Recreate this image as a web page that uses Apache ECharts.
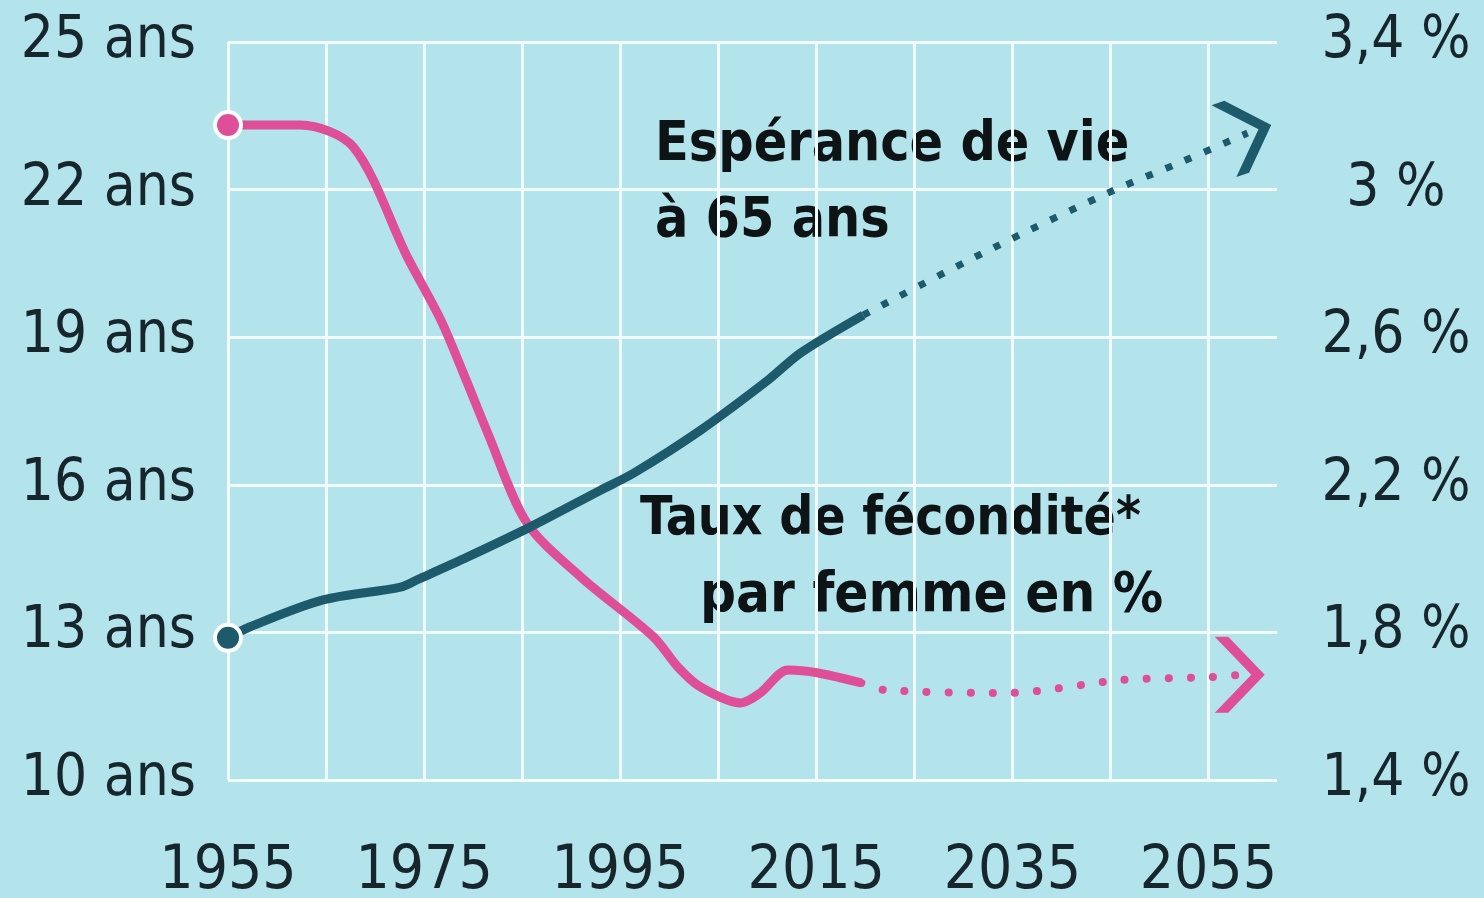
<!DOCTYPE html>
<html>
<head>
<meta charset="utf-8">
<script src="https://cdn.jsdelivr.net/npm/echarts@6/dist/echarts.min.js"></script>
<style>
html, body { margin: 0; padding: 0; background: #b3e3eb; }
#chart { width: 1484px; height: 898px; }
</style>
</head>
<body>
<div id="chart"></div>
<script>
// Taux de fécondité (axe de droite, %)
let fertYears = [1955, 1962.4, 1967.8, 1973.3, 1976.7, 1979, 1981.5, 1985.5, 1991, 1998.4, 2000.9, 2003.2, 2007.3, 2009.3, 2012.1, 2015.2, 2019.6]
let fertValues = [3.175, 3.175, 3.115, 2.817, 2.647, 2.503, 2.34, 2.096, 1.95, 1.788, 1.706, 1.652, 1.609, 1.636, 1.698, 1.69, 1.663]
let fertProjYears = [2019.6, 2022, 2034.5, 2046.2, 2055.2, 2058.2]
let fertProjValues = [1.663, 1.644, 1.636, 1.671, 1.679, 1.685]

// Espérance de vie à 65 ans (axe de gauche, ans)
let lifeYears = [1955, 1957.2, 1964.7, 1972.6, 1974.3, 1979.4, 1985.8, 1993, 1996.4, 2003.2, 2010.1, 2013.4, 2019.8]
let lifeValues = [12.89, 13.11, 13.66, 13.92, 14.07, 14.53, 15.14, 15.89, 16.24, 17.11, 18.13, 18.68, 19.45]
let lifeProjYears = [2019.8, 2033, 2045.4, 2052, 2059]
let lifeProjValues = [19.45, 20.81, 21.99, 22.54, 23.15]

let xTickLabels = ['1955', '1975', '1995', '2015', '2035', '2055']
let leftTickLabels = ['10 ans', '13 ans', '16 ans', '19 ans', '22 ans', '25 ans']
let rightTickLabels = ['1,4 %', '1,8 %', '2,2 %', '2,6 %', '3 %', '3,4 %']

const PINK = '#de4f98'
const BLUE = '#1d5a6c'
const GRIDC = '#f2fcfe'
const chevron = 'path://M0,0 L14,0 L52,38 L14,76 L0,76 L38,38 Z'
const labelFont = '"DejaVu Sans Condensed", "Roboto", sans-serif'

let zip = (xs, ys) => xs.map((x, i) => [x, ys[i]])

let fertData = zip(fertYears, fertValues)
fertData[0] = {
    value: fertData[0], symbol: 'circle', symbolSize: 26,
    itemStyle: { color: PINK, borderColor: '#ffffff', borderWidth: 4 }
}
let fertProj = zip(fertProjYears, fertProjValues)
fertProj[fertProj.length - 1] = {
    value: fertProj[fertProj.length - 1], symbol: chevron, symbolSize: [50, 76],
    itemStyle: { color: PINK }
}

let lifeData = zip(lifeYears, lifeValues)
lifeData[0] = {
    value: lifeData[0], symbol: 'circle', symbolSize: 26,
    itemStyle: { color: BLUE, borderColor: '#ffffff', borderWidth: 4 }
}
let lifeProj = zip(lifeProjYears, lifeProjValues)
lifeProj[lifeProj.length - 1] = {
    value: lifeProj[lifeProj.length - 1], symbol: chevron, symbolSize: [50, 76], symbolRotate: 19,
    itemStyle: { color: BLUE }
}

// 11 vraies lignes verticales + la borne max (invisible)
let vLineColors = new Array(11).fill(GRIDC).concat(['rgba(0,0,0,0)'])

let textStyle = (text, size) => ({ text: text, font: 'bold ' + size + 'px ' + labelFont, fill: '#0e1416', verticalAlign: 'middle' })

let options = {
    backgroundColor: '#b3e3eb',
    animation: false,
    grid: { left: 228, right: 207, top: 42, bottom: 118, outerBoundsMode: 'none' },
    xAxis: {
        type: 'value',
        min: 1955,
        max: 2062,
        interval: 10,
        axisLine: { show: false },
        axisTick: { show: false },
        splitLine: { show: true, lineStyle: { color: vLineColors, width: 3 } },
        axisLabel: {
            margin: 62,
            fontFamily: labelFont,
            fontSize: 60,
            color: '#16262c',
            formatter: v => {
                let i = (v - 1955) / 20
                return Number.isInteger(i) && xTickLabels[i] ? xTickLabels[i] : ''
            }
        }
    },
    yAxis: [
        {
            type: 'value',
            min: 10,
            max: 25,
            interval: 3,
            axisLine: { show: false },
            axisTick: { show: false },
            splitLine: { show: true, lineStyle: { color: GRIDC, width: 3 } },
            axisLabel: {
                margin: 32,
                fontFamily: labelFont,
                fontSize: 58,
                color: '#16262c',
                formatter: v => leftTickLabels[Math.round((v - 10) / 3)]
            }
        },
        {
            type: 'value',
            min: 1.4,
            max: 3.4,
            interval: 0.4,
            position: 'right',
            axisLine: { show: false },
            axisTick: { show: false },
            splitLine: { show: false },
            axisLabel: {
                margin: 119,
                align: 'center',
                fontFamily: labelFont,
                fontSize: 58,
                color: '#16262c',
                formatter: v => rightTickLabels[Math.round((v - 1.4) / 0.4)]
            }
        }
    ],
    series: [
        {
            name: 'Taux de fécondité',
            type: 'line',
            yAxisIndex: 1,
            data: fertData,
            smooth: 0.3,
            symbol: 'none',
            lineStyle: { color: PINK, width: 9 },
            z: 3
        },
        {
            name: 'Taux de fécondité (projection)',
            type: 'line',
            yAxisIndex: 1,
            data: fertProj,
            smooth: 0.3,
            symbol: 'none',
            lineStyle: { color: PINK, width: 8, type: [0.1, 22], cap: 'round' },
            z: 3
        },
        {
            name: 'Espérance de vie à 65 ans',
            type: 'line',
            yAxisIndex: 0,
            data: lifeData,
            smooth: 0.3,
            symbol: 'none',
            lineStyle: { color: BLUE, width: 9 },
            z: 4
        },
        {
            name: 'Espérance de vie (projection)',
            type: 'line',
            yAxisIndex: 0,
            data: lifeProj,
            smooth: 0.3,
            symbol: 'none',
            lineStyle: { color: BLUE, width: 7, type: [7, 14], cap: 'butt' },
            z: 4
        }
    ],
    graphic: [
        { type: 'text', x: 655, y: 146, style: textStyle('Espérance de vie', 55) },
        { type: 'text', x: 655, y: 222, style: textStyle('à 65 ans', 55) },
        { type: 'text', x: 640, y: 520, style: textStyle('Taux de fécondité*', 53) },
        { type: 'text', x: 700, y: 596, style: textStyle('par femme en %', 56) }
    ]
}

let mychart = echarts.init(document.getElementById('chart'))
mychart.setOption(options)
window.addEventListener('resize', () => {
    mychart?.resize()
})
</script>
</body>
</html>
